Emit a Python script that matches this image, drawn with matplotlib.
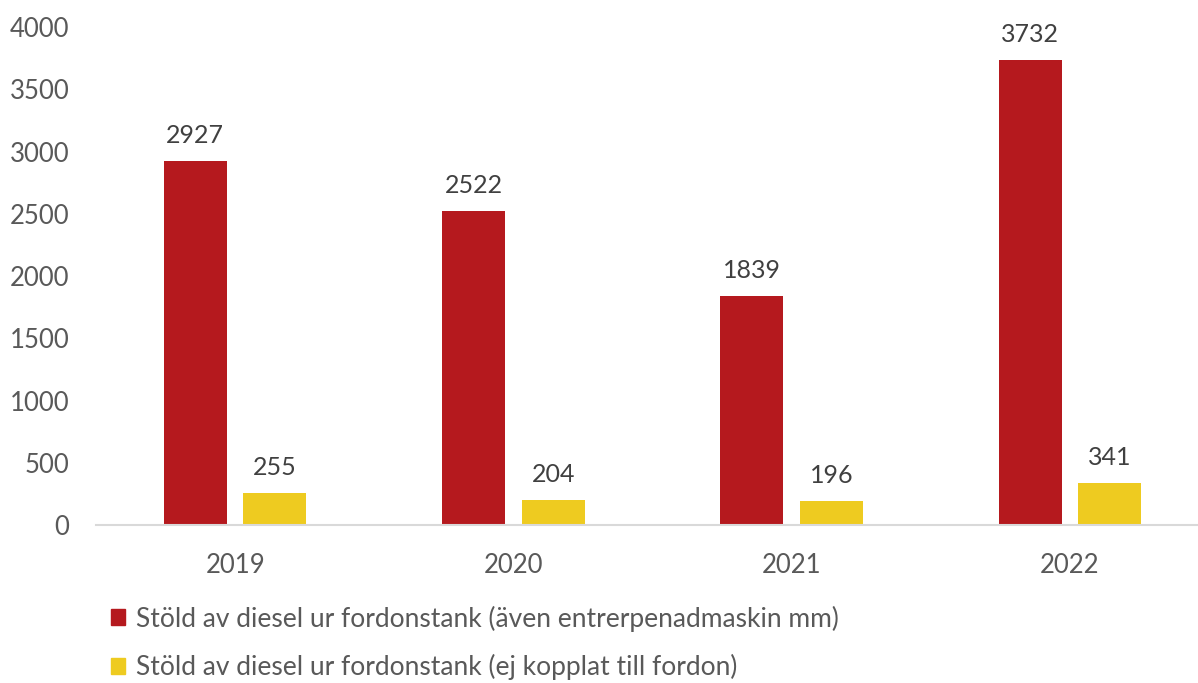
import matplotlib.pyplot as plt
import numpy as np
from matplotlib.patches import Patch

years = ["2019", "2020", "2021", "2022"]
diesel_maskin = [2927, 2522, 1839, 3732]
diesel_ej_fordon = [255, 204, 196, 341]
series_names = [
    "Stöld av diesel ur fordonstank (även entrerpenadmaskin mm)",
    "Stöld av diesel ur fordonstank (ej kopplat till fordon)",
]
y_ticks = [0, 500, 1000, 1500, 2000, 2500, 3000, 3500, 4000]

RED = "#B5191E"
YELLOW = "#EECB20"
GREY = "#595959"

plt.rcParams["font.family"] = ["Lato", "DejaVu Sans"]

W, H = 1198, 683
fig = plt.figure(figsize=(W / 100, H / 100), dpi=100)
# axes box in pixel coords: left 96, top 27, bottom 525
ax = fig.add_axes([96 / W, 1 - 525 / H, 1 - 96 / W, (525 - 27) / H])

x = np.arange(len(years))
bw = 0.226
off = 0.143
b1 = ax.bar(x - off, diesel_maskin, bw, color=RED)
b2 = ax.bar(x + off, diesel_ej_fordon, bw, color=YELLOW)

for bars, vals in ((b1, diesel_maskin), (b2, diesel_ej_fordon)):
    for rect, v in zip(bars, vals):
        ax.annotate(str(v), (rect.get_x() + rect.get_width() / 2, v),
                    xytext=(0, 10), textcoords="offset points",
                    ha="center", va="bottom", fontsize=18, color="#404040")

ax.set_xlim(-0.5, 3.46)
ax.set_ylim(0, 4000)
ax.set_yticks(y_ticks)
ax.set_xticks(x)
ax.set_xticklabels(years)
ax.tick_params(axis="both", length=0, labelsize=18.5, labelcolor=GREY)
ax.tick_params(axis="x", pad=20)
ax.tick_params(axis="y", pad=19)
for s in ("top", "right", "left"):
    ax.spines[s].set_visible(False)
ax.spines["bottom"].set_color("#D9D9D9")
ax.spines["bottom"].set_linewidth(1.5)

handles = [Patch(color=RED), Patch(color=YELLOW)]
fig.legend(handles, series_names, loc="upper left",
           bbox_to_anchor=(100 / W, 1 - 595 / H), frameon=False,
           fontsize=19, labelcolor=GREY, handlelength=0.55, handleheight=0.55,
           handletextpad=0.4, labelspacing=0.85, borderaxespad=0)

fig.savefig("out.png", dpi=100)
